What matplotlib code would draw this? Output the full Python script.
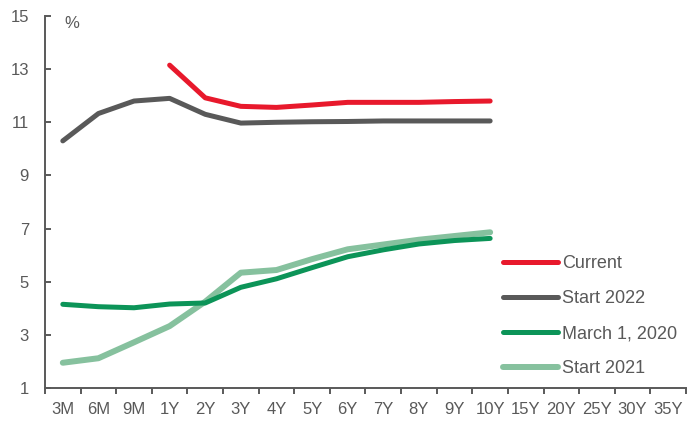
import matplotlib
matplotlib.use("Agg")
import matplotlib.pyplot as plt
from matplotlib.ticker import FixedLocator, NullFormatter, FixedFormatter

tenors = ["3M", "6M", "9M", "1Y", "2Y", "3Y", "4Y", "5Y", "6Y", "7Y", "8Y", "9Y",
          "10Y", "15Y", "20Y", "25Y", "30Y", "35Y"]

current = [None, None, None, 13.15, 11.92, 11.6, 11.56, 11.65, 11.75, 11.75, 11.75, 11.78, 11.8]
start_2022 = [10.3, 11.33, 11.8, 11.9, 11.3, 10.97, 11.0, 11.02, 11.03, 11.05, 11.05, 11.05, 11.05]
march_2020 = [4.15, 4.06, 4.02, 4.16, 4.2, 4.79, 5.11, 5.53, 5.94, 6.2, 6.42, 6.55, 6.63]
start_2021 = [1.95, 2.12, 2.72, 3.33, 4.25, 5.34, 5.44, 5.85, 6.22, 6.4, 6.58, 6.72, 6.86]

series = [
    ("Current", current, "#E8192C", 3.6),
    ("Start 2022", start_2022, "#595959", 3.6),
    ("March 1, 2020", march_2020, "#0C9458", 3.6),
    ("Start 2021", start_2021, "#86C19E", 4.3),
]

text_color = "#595959"
plt.rcParams["font.family"] = ["Liberation Sans", "DejaVu Sans"]
plt.rcParams["font.size"] = 12

fig = plt.figure(figsize=(6.88, 4.23), dpi=100)
W, H = 688, 423
ax = fig.add_axes([45 / W, (H - 388) / H, (686 - 45) / W, (388 - 16) / H])

for i in [3, 2, 1, 0]:
    name, vals, color, lw = series[i]
    xs = [k for k, v in enumerate(vals) if v is not None]
    ys = [v for v in vals if v is not None]
    ax.plot(xs, ys, color=color, lw=lw, solid_capstyle="round", label=name, zorder=6 - i)

ax.set_xlim(-0.5, len(tenors) - 0.5)
ax.set_ylim(1, 15)
ax.set_yticks(range(1, 16, 2))

# category boundaries carry the tick marks, category centres carry the labels
ax.xaxis.set_major_locator(FixedLocator([k - 0.5 for k in range(len(tenors) + 1)]))
ax.xaxis.set_major_formatter(NullFormatter())
ax.xaxis.set_minor_locator(FixedLocator(list(range(len(tenors)))))
ax.xaxis.set_minor_formatter(FixedFormatter(tenors))
ax.tick_params(axis="x", which="major", length=4, width=1.4, color=text_color, direction="out")
ax.tick_params(axis="x", which="minor", length=0, pad=10, labelsize=12, labelcolor=text_color)
ax.tick_params(axis="y", length=4, width=1.4, color=text_color, direction="in",
               labelsize=12, labelcolor=text_color, pad=11.5)

for side in ["top", "right"]:
    ax.spines[side].set_visible(False)
for side in ["left", "bottom"]:
    ax.spines[side].set_color(text_color)
    ax.spines[side].set_linewidth(1.4)

fig.text(72 / W, (H - 23) / H, "%", ha="center", va="center", color=text_color, fontsize=12)

handles, labels = ax.get_legend_handles_labels()
order = [labels.index(s[0]) for s in series]
leg = ax.legend([handles[k] for k in order], [labels[k] for k in order],
                loc="upper left", bbox_to_anchor=(503 / W, (H - 255) / H),
                bbox_transform=fig.transFigure, frameon=False, fontsize=13,
                handlelength=3.05, handletextpad=0.2, labelspacing=1.0,
                borderpad=0, borderaxespad=0)
for t in leg.get_texts():
    t.set_color(text_color)

fig.savefig("out.png", dpi=100)
